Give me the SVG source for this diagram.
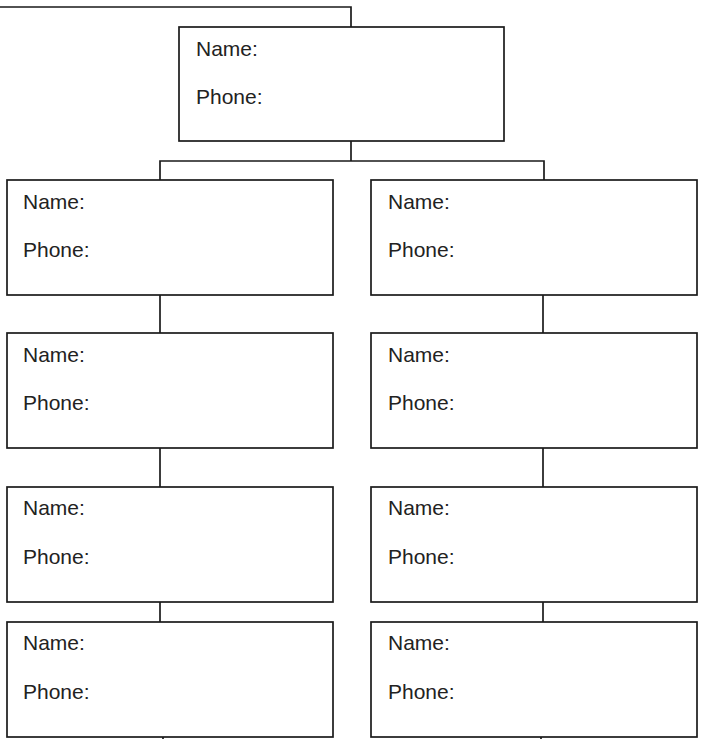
<svg xmlns="http://www.w3.org/2000/svg" width="702" height="739" viewBox="0 0 702 739">
<style>
.box{fill:#fff;stroke:#1a1a1a;stroke-width:1.7}
.c{fill:none;stroke:#1a1a1a;stroke-width:1.7}
text{font-family:"Liberation Sans",Arial,sans-serif;font-size:21px;fill:#222}
</style>
<rect width="702" height="739" fill="#fff"/>
<g id="connectors">
<polyline class="c" points="0,7 351,7 351,27"/>
<line class="c" x1="351" y1="141" x2="351" y2="161"/>
<polyline class="c" points="160,180 160,161 544,161 544,180"/>
<line class="c" x1="160" y1="295" x2="160" y2="333"/>
<line class="c" x1="160" y1="448" x2="160" y2="487"/>
<line class="c" x1="160" y1="602" x2="160" y2="622"/>
<line class="c" x1="163" y1="737" x2="163" y2="739"/>
<line class="c" x1="543" y1="295" x2="543" y2="333"/>
<line class="c" x1="543" y1="448" x2="543" y2="487"/>
<line class="c" x1="543" y1="602" x2="543" y2="622"/>
<line class="c" x1="541" y1="737" x2="541" y2="739"/>
</g>
<g id="top"><rect class="box" x="179" y="27" width="325" height="114"/><text x="196" y="56">Name:</text><text x="196" y="104">Phone:</text></g>
<g id="l1"><rect class="box" x="7" y="180" width="326" height="115"/><text x="23" y="209">Name:</text><text x="23" y="257">Phone:</text></g>
<g id="r1"><rect class="box" x="371" y="180" width="326" height="115"/><text x="388" y="209">Name:</text><text x="388" y="257">Phone:</text></g>
<g id="l2"><rect class="box" x="7" y="333" width="326" height="115"/><text x="23" y="362">Name:</text><text x="23" y="410">Phone:</text></g>
<g id="r2"><rect class="box" x="371" y="333" width="326" height="115"/><text x="388" y="362">Name:</text><text x="388" y="410">Phone:</text></g>
<g id="l3"><rect class="box" x="7" y="487" width="326" height="115"/><text x="23" y="515">Name:</text><text x="23" y="564">Phone:</text></g>
<g id="r3"><rect class="box" x="371" y="487" width="326" height="115"/><text x="388" y="515">Name:</text><text x="388" y="564">Phone:</text></g>
<g id="l4"><rect class="box" x="7" y="622" width="326" height="115"/><text x="23" y="650">Name:</text><text x="23" y="699">Phone:</text></g>
<g id="r4"><rect class="box" x="371" y="622" width="326" height="115"/><text x="388" y="650">Name:</text><text x="388" y="699">Phone:</text></g>
</svg>
